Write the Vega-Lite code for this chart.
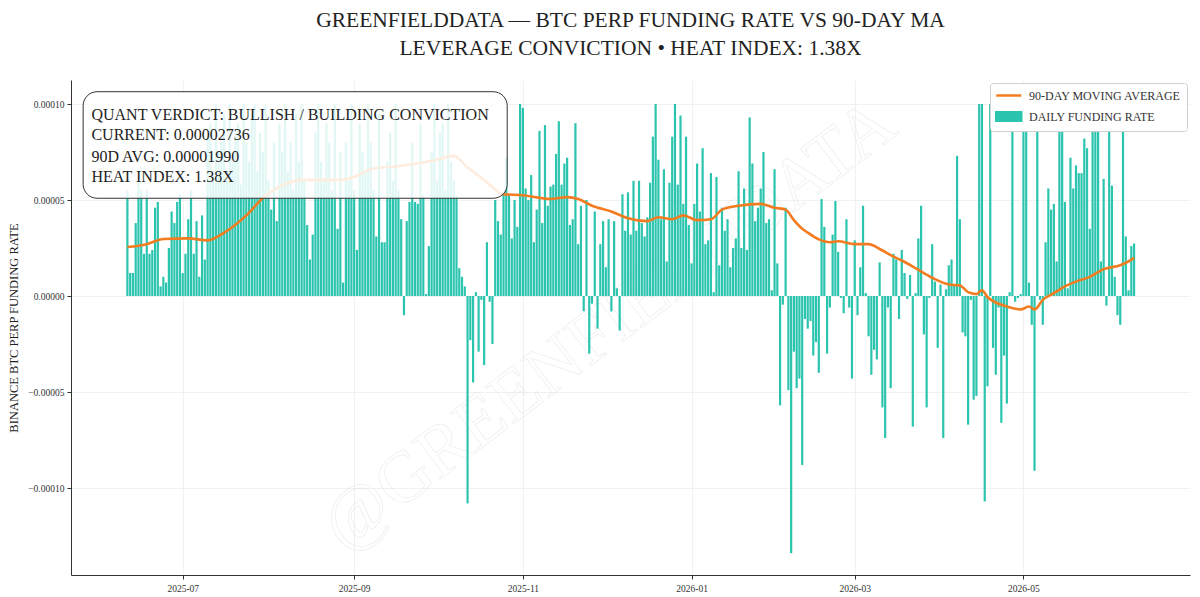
{
  "$schema": "https://vega.github.io/schema/vega-lite/v6.json",
  "width": 1119,
  "height": 495,
  "autosize": {"type": "none"},
  "padding": {"left": 71, "top": 80, "right": 10, "bottom": 22},
  "background": "white",
  "title": {
    "text": ["GREENFIELDDATA — BTC PERP FUNDING RATE VS 90-DAY MA", "LEVERAGE CONVICTION • HEAT INDEX: 1.38X"],
    "font": "Liberation Serif", "fontSize": 21.5, "fontWeight": "normal", "color": "#222222",
    "lineHeight": 28, "anchor": "middle", "offset": 21
  },
  "config": {
    "view": {"stroke": null},
    "axis": {
      "labelFont": "Liberation Serif", "labelFontSize": 9.5, "labelColor": "#333333",
      "domainColor": "#333333", "tickColor": "#333333", "tickSize": 4,
      "gridColor": "#eeeeee", "gridWidth": 0.8,
      "titleFont": "Liberation Serif", "titleFontWeight": "normal", "titleColor": "#222222"
    },
    "legend": {
      "labelFont": "Liberation Serif", "labelFontSize": 12, "labelColor": "#333333",
      "symbolSize": 156, "strokeColor": "#d0d0d0", "fillColor": "white",
      "padding": 5, "rowPadding": 5, "offset": 3, "cornerRadius": 3, "labelOffset": 19
    }
  },
  "datasets": {
    "daily": [
      {"date": "2025-06-11", "rate": 5.5e-5}, {"date": "2025-06-12", "rate": 1.2e-5}, {"date": "2025-06-13", "rate": 1.2e-5},
      {"date": "2025-06-14", "rate": 3.8e-5}, {"date": "2025-06-15", "rate": 6.0e-5}, {"date": "2025-06-16", "rate": 5.5e-5},
      {"date": "2025-06-17", "rate": 2.2e-5}, {"date": "2025-06-18", "rate": 5.5e-5}, {"date": "2025-06-19", "rate": 2.2e-5},
      {"date": "2025-06-20", "rate": 2.4e-5}, {"date": "2025-06-21", "rate": 4.6e-5}, {"date": "2025-06-22", "rate": 4.9e-5},
      {"date": "2025-06-23", "rate": 0.5e-5}, {"date": "2025-06-24", "rate": 1.0e-5}, {"date": "2025-06-25", "rate": 0.7e-5},
      {"date": "2025-06-26", "rate": 2.5e-5}, {"date": "2025-06-27", "rate": 4.4e-5}, {"date": "2025-06-28", "rate": 3.8e-5},
      {"date": "2025-06-29", "rate": 4.9e-5}, {"date": "2025-06-30", "rate": 5.3e-5},
      {"date": "2025-07-01", "rate": 1.2e-5}, {"date": "2025-07-02", "rate": 2.2e-5}, {"date": "2025-07-03", "rate": 4.0e-5},
      {"date": "2025-07-04", "rate": 5.5e-5}, {"date": "2025-07-05", "rate": 2.2e-5}, {"date": "2025-07-06", "rate": 3.9e-5},
      {"date": "2025-07-07", "rate": 1.0e-5}, {"date": "2025-07-08", "rate": 4.2e-5}, {"date": "2025-07-09", "rate": 1.9e-5},
      {"date": "2025-07-10", "rate": 8.5e-5}, {"date": "2025-07-11", "rate": 9.0e-5}, {"date": "2025-07-12", "rate": 6.5e-5},
      {"date": "2025-07-13", "rate": 1.0e-4}, {"date": "2025-07-14", "rate": 7.5e-5}, {"date": "2025-07-15", "rate": 8.0e-5},
      {"date": "2025-07-16", "rate": 9.5e-5}, {"date": "2025-07-17", "rate": 6.0e-5}, {"date": "2025-07-18", "rate": 1.0e-4},
      {"date": "2025-07-19", "rate": 7.0e-5}, {"date": "2025-07-20", "rate": 8.5e-5}, {"date": "2025-07-21", "rate": 9.0e-5},
      {"date": "2025-07-22", "rate": 5.8e-5}, {"date": "2025-07-23", "rate": 1.0e-4}, {"date": "2025-07-24", "rate": 8.0e-5},
      {"date": "2025-07-25", "rate": 7.0e-5}, {"date": "2025-07-26", "rate": 9.5e-5}, {"date": "2025-07-27", "rate": 1.0e-4},
      {"date": "2025-07-28", "rate": 6.5e-5}, {"date": "2025-07-29", "rate": 8.5e-5}, {"date": "2025-07-30", "rate": 7.5e-5},
      {"date": "2025-07-31", "rate": 1.0e-4},
      {"date": "2025-08-01", "rate": 6.0e-5}, {"date": "2025-08-02", "rate": 4.5e-5}, {"date": "2025-08-03", "rate": 8.0e-5},
      {"date": "2025-08-04", "rate": 3.9e-5}, {"date": "2025-08-05", "rate": 9.0e-5}, {"date": "2025-08-06", "rate": 7.5e-5},
      {"date": "2025-08-07", "rate": 1.0e-4}, {"date": "2025-08-08", "rate": 6.5e-5}, {"date": "2025-08-09", "rate": 8.0e-5},
      {"date": "2025-08-10", "rate": 5.5e-5}, {"date": "2025-08-11", "rate": 9.5e-5}, {"date": "2025-08-12", "rate": 7.0e-5},
      {"date": "2025-08-13", "rate": 1.0e-4}, {"date": "2025-08-14", "rate": 6.0e-5}, {"date": "2025-08-15", "rate": 3.7e-5},
      {"date": "2025-08-16", "rate": 1.9e-5}, {"date": "2025-08-17", "rate": 3.2e-5}, {"date": "2025-08-18", "rate": 8.5e-5},
      {"date": "2025-08-19", "rate": 1.0e-4}, {"date": "2025-08-20", "rate": 7.0e-5}, {"date": "2025-08-21", "rate": 6.0e-5},
      {"date": "2025-08-22", "rate": 9.0e-5}, {"date": "2025-08-23", "rate": 8.0e-5}, {"date": "2025-08-24", "rate": 5.5e-5},
      {"date": "2025-08-25", "rate": 1.0e-4}, {"date": "2025-08-26", "rate": 3.5e-5}, {"date": "2025-08-27", "rate": 7.5e-5},
      {"date": "2025-08-28", "rate": 0.7e-5}, {"date": "2025-08-29", "rate": 8.0e-5}, {"date": "2025-08-30", "rate": 6.0e-5},
      {"date": "2025-08-31", "rate": 1.0e-4},
      {"date": "2025-09-01", "rate": 5.5e-5}, {"date": "2025-09-02", "rate": 2.4e-5}, {"date": "2025-09-03", "rate": 9.0e-5},
      {"date": "2025-09-04", "rate": 7.5e-5}, {"date": "2025-09-05", "rate": 6.5e-5}, {"date": "2025-09-06", "rate": 1.0e-4},
      {"date": "2025-09-07", "rate": 8.0e-5}, {"date": "2025-09-08", "rate": 5.5e-5}, {"date": "2025-09-09", "rate": 3.1e-5},
      {"date": "2025-09-10", "rate": 9.5e-5}, {"date": "2025-09-11", "rate": 2.8e-5}, {"date": "2025-09-12", "rate": 2.8e-5},
      {"date": "2025-09-13", "rate": 7.0e-5}, {"date": "2025-09-14", "rate": 8.5e-5}, {"date": "2025-09-15", "rate": 6.0e-5},
      {"date": "2025-09-16", "rate": 1.0e-4}, {"date": "2025-09-17", "rate": 5.5e-5}, {"date": "2025-09-18", "rate": 4.0e-5},
      {"date": "2025-09-19", "rate": -1.0e-5}, {"date": "2025-09-20", "rate": 3.9e-5}, {"date": "2025-09-21", "rate": 4.9e-5},
      {"date": "2025-09-22", "rate": 8.0e-5}, {"date": "2025-09-23", "rate": 4.9e-5}, {"date": "2025-09-24", "rate": 4.8e-5},
      {"date": "2025-09-25", "rate": 9.0e-5}, {"date": "2025-09-26", "rate": 5.2e-5}, {"date": "2025-09-27", "rate": 0.1e-5},
      {"date": "2025-09-28", "rate": 2.6e-5}, {"date": "2025-09-29", "rate": 7.5e-5}, {"date": "2025-09-30", "rate": 1.0e-4},
      {"date": "2025-10-01", "rate": 6.0e-5}, {"date": "2025-10-02", "rate": 8.5e-5}, {"date": "2025-10-03", "rate": 9.0e-5},
      {"date": "2025-10-04", "rate": 5.5e-5}, {"date": "2025-10-05", "rate": 1.0e-4}, {"date": "2025-10-06", "rate": 7.0e-5},
      {"date": "2025-10-07", "rate": 6.0e-5}, {"date": "2025-10-08", "rate": 5.2e-5}, {"date": "2025-10-09", "rate": 1.45e-5},
      {"date": "2025-10-10", "rate": 1.0e-5}, {"date": "2025-10-11", "rate": 0.5e-5}, {"date": "2025-10-12", "rate": -1.08e-4},
      {"date": "2025-10-13", "rate": -2.3e-5}, {"date": "2025-10-14", "rate": -4.5e-5}, {"date": "2025-10-15", "rate": 0.2e-5},
      {"date": "2025-10-16", "rate": -2.9e-5}, {"date": "2025-10-17", "rate": -0.2e-5}, {"date": "2025-10-18", "rate": -3.6e-5},
      {"date": "2025-10-19", "rate": 2.8e-5}, {"date": "2025-10-20", "rate": -0.3e-5}, {"date": "2025-10-21", "rate": -2.5e-5},
      {"date": "2025-10-22", "rate": 5.0e-5}, {"date": "2025-10-23", "rate": 3.9e-5}, {"date": "2025-10-24", "rate": 3.2e-5},
      {"date": "2025-10-25", "rate": 5.3e-5}, {"date": "2025-10-26", "rate": 7.2e-5}, {"date": "2025-10-27", "rate": 5.3e-5},
      {"date": "2025-10-28", "rate": 3.0e-5}, {"date": "2025-10-29", "rate": 5.0e-5}, {"date": "2025-10-30", "rate": 3.6e-5},
      {"date": "2025-10-31", "rate": 1.0e-4},
      {"date": "2025-11-01", "rate": 9.8e-5}, {"date": "2025-11-02", "rate": 5.6e-5}, {"date": "2025-11-03", "rate": 5.0e-5},
      {"date": "2025-11-04", "rate": 6.3e-5}, {"date": "2025-11-05", "rate": 2.8e-5}, {"date": "2025-11-06", "rate": 4.5e-5},
      {"date": "2025-11-07", "rate": 8.6e-5}, {"date": "2025-11-08", "rate": 3.8e-5}, {"date": "2025-11-09", "rate": 8.9e-5},
      {"date": "2025-11-10", "rate": 4.7e-5}, {"date": "2025-11-11", "rate": 5.7e-5}, {"date": "2025-11-12", "rate": 5.8e-5},
      {"date": "2025-11-13", "rate": 7.4e-5}, {"date": "2025-11-14", "rate": 9.1e-5}, {"date": "2025-11-15", "rate": 5.8e-5},
      {"date": "2025-11-16", "rate": 6.9e-5}, {"date": "2025-11-17", "rate": 7.2e-5}, {"date": "2025-11-18", "rate": 3.7e-5},
      {"date": "2025-11-19", "rate": 4.0e-5}, {"date": "2025-11-20", "rate": 9.0e-5}, {"date": "2025-11-21", "rate": 2.7e-5},
      {"date": "2025-11-22", "rate": 4.7e-5}, {"date": "2025-11-23", "rate": -0.8e-5}, {"date": "2025-11-24", "rate": 5.0e-5},
      {"date": "2025-11-25", "rate": -3.0e-5}, {"date": "2025-11-26", "rate": -0.4e-5}, {"date": "2025-11-27", "rate": 4.4e-5},
      {"date": "2025-11-28", "rate": -1.7e-5}, {"date": "2025-11-29", "rate": 2.7e-5}, {"date": "2025-11-30", "rate": 3.9e-5},
      {"date": "2025-12-01", "rate": 1.5e-5}, {"date": "2025-12-02", "rate": 4.0e-5}, {"date": "2025-12-03", "rate": -0.8e-5},
      {"date": "2025-12-04", "rate": 3.9e-5}, {"date": "2025-12-05", "rate": 0.4e-5}, {"date": "2025-12-06", "rate": -1.8e-5},
      {"date": "2025-12-07", "rate": 5.3e-5}, {"date": "2025-12-08", "rate": 3.4e-5}, {"date": "2025-12-09", "rate": 5.4e-5},
      {"date": "2025-12-10", "rate": 3.2e-5}, {"date": "2025-12-11", "rate": 6.0e-5}, {"date": "2025-12-12", "rate": 3.4e-5},
      {"date": "2025-12-13", "rate": 6.0e-5}, {"date": "2025-12-14", "rate": 3.8e-5}, {"date": "2025-12-15", "rate": 3.1e-5},
      {"date": "2025-12-16", "rate": 4.1e-5}, {"date": "2025-12-17", "rate": 5.9e-5}, {"date": "2025-12-18", "rate": 8.3e-5},
      {"date": "2025-12-19", "rate": 1.0e-4}, {"date": "2025-12-20", "rate": 7.1e-5}, {"date": "2025-12-21", "rate": 4.0e-5},
      {"date": "2025-12-22", "rate": 6.6e-5}, {"date": "2025-12-23", "rate": 1.8e-5}, {"date": "2025-12-24", "rate": 5.9e-5},
      {"date": "2025-12-25", "rate": 8.3e-5}, {"date": "2025-12-26", "rate": 1.0e-4}, {"date": "2025-12-27", "rate": 5.8e-5},
      {"date": "2025-12-28", "rate": 9.4e-5}, {"date": "2025-12-29", "rate": 4.8e-5}, {"date": "2025-12-30", "rate": 8.3e-5},
      {"date": "2025-12-31", "rate": 3.7e-5},
      {"date": "2026-01-01", "rate": 1.7e-5}, {"date": "2026-01-02", "rate": 4.8e-5}, {"date": "2026-01-03", "rate": 6.9e-5},
      {"date": "2026-01-04", "rate": 4.4e-5}, {"date": "2026-01-05", "rate": 7.7e-5}, {"date": "2026-01-06", "rate": 2.7e-5},
      {"date": "2026-01-07", "rate": 2.9e-5}, {"date": "2026-01-08", "rate": 6.4e-5}, {"date": "2026-01-09", "rate": 0.2e-5},
      {"date": "2026-01-10", "rate": 6.2e-5}, {"date": "2026-01-11", "rate": 1.6e-5}, {"date": "2026-01-12", "rate": 4.6e-5},
      {"date": "2026-01-13", "rate": 3.4e-5}, {"date": "2026-01-14", "rate": 4.0e-5}, {"date": "2026-01-15", "rate": 1.5e-5},
      {"date": "2026-01-16", "rate": 2.5e-5}, {"date": "2026-01-17", "rate": 3.0e-5}, {"date": "2026-01-18", "rate": 6.5e-5},
      {"date": "2026-01-19", "rate": 2.5e-5}, {"date": "2026-01-20", "rate": 5.6e-5}, {"date": "2026-01-21", "rate": 2.4e-5},
      {"date": "2026-01-22", "rate": 9.3e-5}, {"date": "2026-01-23", "rate": 6.9e-5}, {"date": "2026-01-24", "rate": 3.9e-5},
      {"date": "2026-01-25", "rate": 4.6e-5}, {"date": "2026-01-26", "rate": 5.6e-5}, {"date": "2026-01-27", "rate": 7.5e-5},
      {"date": "2026-01-28", "rate": 3.8e-5}, {"date": "2026-01-29", "rate": 4.0e-5}, {"date": "2026-01-30", "rate": 0.3e-5},
      {"date": "2026-01-31", "rate": 6.6e-5},
      {"date": "2026-02-01", "rate": 1.7e-5}, {"date": "2026-02-02", "rate": -5.7e-5}, {"date": "2026-02-03", "rate": -0.45e-5},
      {"date": "2026-02-04", "rate": 4.6e-5}, {"date": "2026-02-05", "rate": -4.9e-5}, {"date": "2026-02-06", "rate": -1.34e-4},
      {"date": "2026-02-07", "rate": -2.9e-5}, {"date": "2026-02-08", "rate": -4.8e-5}, {"date": "2026-02-09", "rate": -4.3e-5},
      {"date": "2026-02-10", "rate": -8.8e-5}, {"date": "2026-02-11", "rate": -1.2e-5}, {"date": "2026-02-12", "rate": -1.7e-5},
      {"date": "2026-02-13", "rate": -1.3e-5}, {"date": "2026-02-14", "rate": -3.1e-5}, {"date": "2026-02-15", "rate": -2.4e-5},
      {"date": "2026-02-16", "rate": -4.0e-5}, {"date": "2026-02-17", "rate": 5.05e-5}, {"date": "2026-02-18", "rate": 3.6e-5},
      {"date": "2026-02-19", "rate": -3.0e-5}, {"date": "2026-02-20", "rate": -0.6e-5}, {"date": "2026-02-21", "rate": 3.2e-5},
      {"date": "2026-02-22", "rate": 4.95e-5}, {"date": "2026-02-23", "rate": 2.3e-5}, {"date": "2026-02-24", "rate": -0.1e-5},
      {"date": "2026-02-25", "rate": -0.9e-5}, {"date": "2026-02-26", "rate": 4.0e-5}, {"date": "2026-02-27", "rate": -0.6e-5},
      {"date": "2026-02-28", "rate": -4.3e-5},
      {"date": "2026-03-01", "rate": 2.9e-5}, {"date": "2026-03-02", "rate": -1.0e-5}, {"date": "2026-03-03", "rate": 1.5e-5},
      {"date": "2026-03-04", "rate": 4.7e-5}, {"date": "2026-03-05", "rate": 0.15e-5}, {"date": "2026-03-06", "rate": -2.1e-5},
      {"date": "2026-03-07", "rate": -4.1e-5}, {"date": "2026-03-08", "rate": -2.8e-5}, {"date": "2026-03-09", "rate": -3.3e-5},
      {"date": "2026-03-10", "rate": 1.75e-5}, {"date": "2026-03-11", "rate": -5.8e-5}, {"date": "2026-03-12", "rate": -7.4e-5},
      {"date": "2026-03-13", "rate": -0.6e-5}, {"date": "2026-03-14", "rate": -4.8e-5}, {"date": "2026-03-15", "rate": 2.2e-5},
      {"date": "2026-03-16", "rate": 1.9e-5}, {"date": "2026-03-17", "rate": -1.2e-5}, {"date": "2026-03-18", "rate": 2.4e-5},
      {"date": "2026-03-19", "rate": 1.2e-5}, {"date": "2026-03-20", "rate": -0.15e-5}, {"date": "2026-03-21", "rate": 1.1e-5},
      {"date": "2026-03-22", "rate": -6.8e-5}, {"date": "2026-03-23", "rate": 0.15e-5}, {"date": "2026-03-24", "rate": 3.0e-5},
      {"date": "2026-03-25", "rate": 4.7e-5}, {"date": "2026-03-26", "rate": -2.0e-5}, {"date": "2026-03-27", "rate": -5.8e-5},
      {"date": "2026-03-28", "rate": -0.1e-5}, {"date": "2026-03-29", "rate": 2.7e-5}, {"date": "2026-03-30", "rate": 0.75e-5},
      {"date": "2026-03-31", "rate": -2.7e-5},
      {"date": "2026-04-01", "rate": 0.6e-5}, {"date": "2026-04-02", "rate": -7.4e-5}, {"date": "2026-04-03", "rate": 0.35e-5},
      {"date": "2026-04-04", "rate": 1.6e-5}, {"date": "2026-04-05", "rate": 1.9e-5}, {"date": "2026-04-06", "rate": 0.55e-5},
      {"date": "2026-04-07", "rate": 7.3e-5}, {"date": "2026-04-08", "rate": 4.0e-5}, {"date": "2026-04-09", "rate": -1.9e-5},
      {"date": "2026-04-10", "rate": -2.1e-5}, {"date": "2026-04-11", "rate": -6.7e-5}, {"date": "2026-04-12", "rate": -0.2e-5},
      {"date": "2026-04-13", "rate": -5.4e-5}, {"date": "2026-04-14", "rate": -5.2e-5}, {"date": "2026-04-15", "rate": 1.0e-4},
      {"date": "2026-04-16", "rate": 1.0e-4}, {"date": "2026-04-17", "rate": -1.07e-4}, {"date": "2026-04-18", "rate": -4.7e-5},
      {"date": "2026-04-19", "rate": 1.0e-4}, {"date": "2026-04-20", "rate": -2.7e-5}, {"date": "2026-04-21", "rate": -4.1e-5},
      {"date": "2026-04-22", "rate": -0.6e-5}, {"date": "2026-04-23", "rate": -6.6e-5}, {"date": "2026-04-24", "rate": -3.1e-5},
      {"date": "2026-04-25", "rate": -5.6e-5}, {"date": "2026-04-26", "rate": 0.2e-5}, {"date": "2026-04-27", "rate": 1.0e-4},
      {"date": "2026-04-28", "rate": -0.3e-5}, {"date": "2026-04-29", "rate": -0.1e-5}, {"date": "2026-04-30", "rate": 0.1e-5},
      {"date": "2026-05-01", "rate": 1.0e-4}, {"date": "2026-05-02", "rate": 1.0e-4}, {"date": "2026-05-03", "rate": 0.7e-5},
      {"date": "2026-05-04", "rate": -1.5e-5}, {"date": "2026-05-05", "rate": -9.1e-5}, {"date": "2026-05-06", "rate": 1.0e-4},
      {"date": "2026-05-07", "rate": -0.2e-5}, {"date": "2026-05-08", "rate": -1.5e-5}, {"date": "2026-05-09", "rate": 2.8e-5},
      {"date": "2026-05-10", "rate": 5.6e-5}, {"date": "2026-05-11", "rate": 4.5e-5}, {"date": "2026-05-12", "rate": 4.8e-5},
      {"date": "2026-05-13", "rate": 1.8e-5}, {"date": "2026-05-14", "rate": 1.0e-4}, {"date": "2026-05-15", "rate": 1.0e-4},
      {"date": "2026-05-16", "rate": 4.9e-5}, {"date": "2026-05-17", "rate": 0.4e-5}, {"date": "2026-05-18", "rate": 7.2e-5},
      {"date": "2026-05-19", "rate": 5.6e-5}, {"date": "2026-05-20", "rate": 6.8e-5}, {"date": "2026-05-21", "rate": 6.4e-5},
      {"date": "2026-05-22", "rate": 6.4e-5}, {"date": "2026-05-23", "rate": 8.2e-5}, {"date": "2026-05-24", "rate": 7.7e-5},
      {"date": "2026-05-25", "rate": 3.5e-5}, {"date": "2026-05-26", "rate": 1.0e-4}, {"date": "2026-05-27", "rate": 1.0e-4},
      {"date": "2026-05-28", "rate": 1.0e-4}, {"date": "2026-05-29", "rate": 1.8e-5}, {"date": "2026-05-30", "rate": 6.1e-5},
      {"date": "2026-05-31", "rate": -0.5e-5},
      {"date": "2026-06-01", "rate": 1.0e-4}, {"date": "2026-06-02", "rate": 5.75e-5}, {"date": "2026-06-03", "rate": 1.0e-5},
      {"date": "2026-06-04", "rate": -1.0e-5}, {"date": "2026-06-05", "rate": -1.5e-5}, {"date": "2026-06-06", "rate": 1.0e-4},
      {"date": "2026-06-07", "rate": 3.1e-5}, {"date": "2026-06-08", "rate": 0.3e-5}, {"date": "2026-06-09", "rate": 2.6e-5},
      {"date": "2026-06-10", "rate": 2.736e-5}
    ],
    "ma": [
      {"date": "2025-06-11", "ma": 2.55e-5}, {"date": "2025-06-18", "ma": 2.7e-5}, {"date": "2025-06-24", "ma": 2.97e-5},
      {"date": "2025-07-03", "ma": 3.0e-5}, {"date": "2025-07-10", "ma": 2.9e-5}, {"date": "2025-07-16", "ma": 3.3e-5},
      {"date": "2025-07-24", "ma": 4.2e-5}, {"date": "2025-07-30", "ma": 5.1e-5}, {"date": "2025-08-05", "ma": 5.7e-5},
      {"date": "2025-08-14", "ma": 6.05e-5}, {"date": "2025-08-27", "ma": 6.05e-5}, {"date": "2025-09-01", "ma": 6.2e-5},
      {"date": "2025-09-07", "ma": 6.6e-5}, {"date": "2025-09-19", "ma": 6.8e-5}, {"date": "2025-10-01", "ma": 7.1e-5},
      {"date": "2025-10-07", "ma": 7.3e-5}, {"date": "2025-10-12", "ma": 6.7e-5}, {"date": "2025-10-18", "ma": 6.05e-5},
      {"date": "2025-10-25", "ma": 5.3e-5}, {"date": "2025-11-01", "ma": 5.25e-5}, {"date": "2025-11-11", "ma": 5.05e-5},
      {"date": "2025-11-17", "ma": 5.15e-5}, {"date": "2025-11-21", "ma": 5.05e-5}, {"date": "2025-11-26", "ma": 4.7e-5},
      {"date": "2025-12-03", "ma": 4.4e-5}, {"date": "2025-12-09", "ma": 4.05e-5}, {"date": "2025-12-16", "ma": 3.9e-5},
      {"date": "2025-12-20", "ma": 4.1e-5}, {"date": "2025-12-25", "ma": 4.0e-5}, {"date": "2025-12-29", "ma": 4.2e-5},
      {"date": "2026-01-03", "ma": 3.95e-5}, {"date": "2026-01-08", "ma": 4.0e-5}, {"date": "2026-01-12", "ma": 4.5e-5},
      {"date": "2026-01-18", "ma": 4.7e-5}, {"date": "2026-01-26", "ma": 4.8e-5}, {"date": "2026-01-31", "ma": 4.6e-5},
      {"date": "2026-02-04", "ma": 4.5e-5}, {"date": "2026-02-07", "ma": 3.95e-5}, {"date": "2026-02-10", "ma": 3.5e-5},
      {"date": "2026-02-12", "ma": 3.3e-5}, {"date": "2026-02-16", "ma": 2.95e-5}, {"date": "2026-02-20", "ma": 2.8e-5},
      {"date": "2026-02-23", "ma": 2.85e-5}, {"date": "2026-03-01", "ma": 2.7e-5}, {"date": "2026-03-06", "ma": 2.7e-5},
      {"date": "2026-03-10", "ma": 2.45e-5}, {"date": "2026-03-15", "ma": 2.05e-5}, {"date": "2026-03-18", "ma": 1.85e-5},
      {"date": "2026-03-23", "ma": 1.45e-5}, {"date": "2026-03-29", "ma": 0.95e-5}, {"date": "2026-04-04", "ma": 0.6e-5},
      {"date": "2026-04-08", "ma": 0.55e-5}, {"date": "2026-04-11", "ma": 0.2e-5}, {"date": "2026-04-14", "ma": 0.1e-5},
      {"date": "2026-04-16", "ma": 0.3e-5}, {"date": "2026-04-18", "ma": -0.05e-5}, {"date": "2026-04-25", "ma": -0.55e-5},
      {"date": "2026-04-30", "ma": -0.7e-5}, {"date": "2026-05-03", "ma": -0.55e-5}, {"date": "2026-05-05", "ma": -0.7e-5},
      {"date": "2026-05-08", "ma": -0.2e-5}, {"date": "2026-05-12", "ma": 0.15e-5}, {"date": "2026-05-16", "ma": 0.5e-5},
      {"date": "2026-05-20", "ma": 0.75e-5}, {"date": "2026-05-25", "ma": 1.0e-5}, {"date": "2026-05-30", "ma": 1.4e-5},
      {"date": "2026-06-05", "ma": 1.6e-5}, {"date": "2026-06-08", "ma": 1.8e-5}, {"date": "2026-06-10", "ma": 1.99e-5}
    ],
    "box": [
      {"date": "2025-05-26", "end": "2025-10-26T08:00:00Z", "low": 5.09e-5, "high": 1.064e-4}
    ],
    "boxtext": [
      {"date": "2025-05-29", "v": 9.43e-5, "t": "QUANT VERDICT: BULLISH / BUILDING CONVICTION"},
      {"date": "2025-05-29", "v": 8.36e-5, "t": "CURRENT: 0.00002736"},
      {"date": "2025-05-29", "v": 7.24e-5, "t": "90D AVG: 0.00001990"},
      {"date": "2025-05-29", "v": 6.22e-5, "t": "HEAT INDEX: 1.38X"}
    ],
    "watermark": [
      {"date": "2025-12-02", "v": -1.5e-5, "t": "@GREENFIELDDATA"}
    ]
  },
  "encoding": {
    "x": {
      "field": "date", "type": "temporal",
      "scale": {
        "type": "utc",
        "domain": [
          {"year": 2025, "month": 5, "date": 23, "hours": 10, "utc": true},
          {"year": 2026, "month": 6, "date": 28, "hours": 10, "utc": true}
        ]
      },
      "axis": {
        "title": null, "labelExpr": "utcFormat(datum.value, '%Y-%m')", "labelPadding": 4,
        "values": [
          {"year": 2025, "month": 7, "date": 1, "utc": true},
          {"year": 2025, "month": 9, "date": 1, "utc": true},
          {"year": 2025, "month": 11, "date": 1, "utc": true},
          {"year": 2026, "month": 1, "date": 1, "utc": true},
          {"year": 2026, "month": 3, "date": 1, "utc": true},
          {"year": 2026, "month": 5, "date": 1, "utc": true}
        ]
      }
    }
  },
  "layer": [
    {
      "data": {"name": "watermark"},
      "mark": {"type": "text", "font": "Liberation Serif", "fontSize": 72, "angle": -37,
               "align": "center", "baseline": "middle",
               "fill": "#ffffff", "fillOpacity": 0, "stroke": "#dcdcdc", "strokeWidth": 0.7, "strokeOpacity": 0.5},
      "encoding": {
        "y": {"field": "v", "type": "quantitative"},
        "text": {"field": "t"}
      }
    },
    {
      "data": {"name": "daily"},
      "mark": {"type": "bar", "width": 2.2},
      "encoding": {
        "y": {
          "field": "rate", "type": "quantitative",
          "scale": {"domain": [-1.453e-4, 1.125e-4], "nice": false, "zero": false},
          "axis": {
            "title": "BINANCE BTC PERP FUNDING RATE", "titleFontSize": 12.5, "titlePadding": 7,
            "format": ".5f", "values": [-1.0e-4, -5.0e-5, 0, 5.0e-5, 1.0e-4], "labelPadding": 3
          }
        },
        "color": {
          "datum": "DAILY FUNDING RATE",
          "scale": {"domain": ["90-DAY MOVING AVERAGE", "DAILY FUNDING RATE"], "range": ["#f47c20", "#2bc4ae"]},
          "legend": {
            "title": null, "orient": "top-right",
            "encode": {
              "symbols": {
                "update": {
                  "shape": {"signal": "datum.value === 'DAILY FUNDING RATE' ? 'M-1,-0.7H3V0.7H-1Z' : 'M-1,0H3'"},
                  "fill": {"signal": "datum.value === 'DAILY FUNDING RATE' ? '#2bc4ae' : 'transparent'"},
                  "stroke": {"signal": "datum.value === 'DAILY FUNDING RATE' ? 'transparent' : '#f47c20'"},
                  "strokeWidth": {"value": 2.5},
                  "opacity": {"value": 1}
                }
              }
            }
          }
        }
      }
    },
    {
      "data": {"name": "ma"},
      "mark": {"type": "line", "strokeWidth": 2.6, "interpolate": "monotone"},
      "encoding": {
        "y": {"field": "ma", "type": "quantitative"},
        "color": {"datum": "90-DAY MOVING AVERAGE"}
      }
    },
    {
      "data": {"name": "box"},
      "mark": {"type": "rect", "fill": "#ffffff", "fillOpacity": 0.86, "stroke": "#333333", "strokeWidth": 1, "cornerRadius": 14},
      "encoding": {
        "x2": {"field": "end"},
        "y": {"field": "low", "type": "quantitative"},
        "y2": {"field": "high"}
      }
    },
    {
      "data": {"name": "boxtext"},
      "mark": {"type": "text", "font": "Liberation Serif", "fontSize": 16, "align": "left", "baseline": "middle", "color": "#222222"},
      "encoding": {
        "y": {"field": "v", "type": "quantitative"},
        "text": {"field": "t"}
      }
    }
  ]
}
